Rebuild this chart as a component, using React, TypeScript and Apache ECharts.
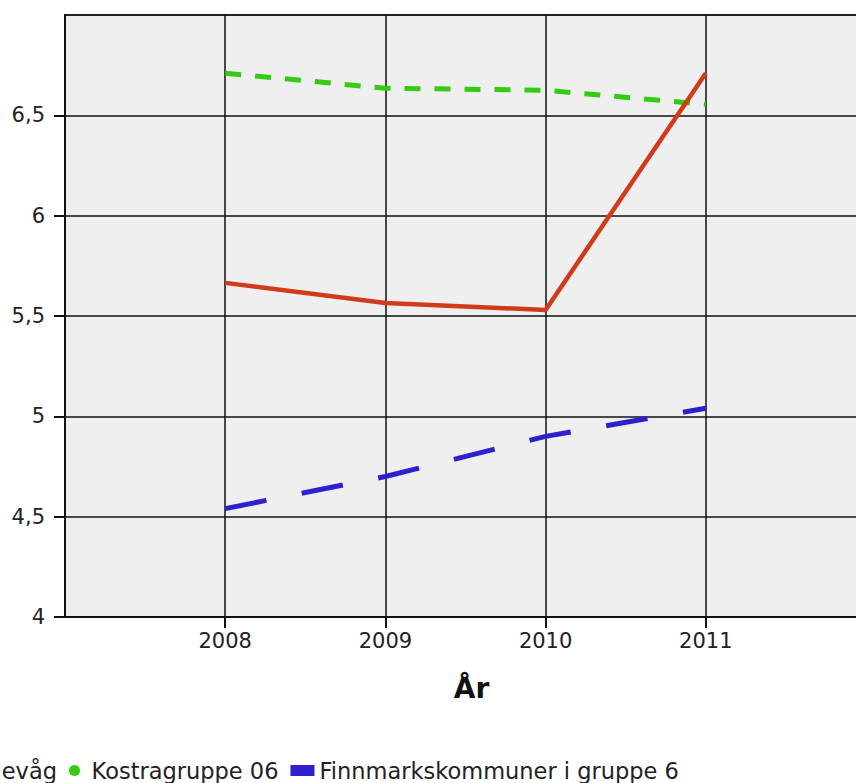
import React, { useEffect, useRef } from "react";
import * as echarts from "echarts";

const years = [2008, 2009, 2010, 2011];
const seriesNames = ["Berlevåg", "Kostragruppe 06", "Finnmarkskommuner i gruppe 6"];
const berlevag = [5.665, 5.565, 5.53, 6.71];
const kostra = [6.71, 6.635, 6.625, 6.555];
const finnmark = [4.54, 4.7, 4.9, 5.04];
const yTicks = [4, 4.5, 5, 5.5, 6, 6.5];
const xTicks = [2008, 2009, 2010, 2011];

const OFF = 100;
const W = 1000;
const H = 783;

const pairs = (vals: number[]) => years.map((y, i) => [y, vals[i]]);

export default function App() {
  const ref = useRef<HTMLDivElement>(null);
  useEffect(() => {
    if (!ref.current) return;
    const chart = echarts.init(ref.current, undefined, { renderer: "svg" });
    const font = "DejaVu Sans";
    chart.setOption({
      animation: false,
      backgroundColor: "#ffffff",
      grid: {
        left: 65 + OFF,
        right: W - (866 + OFF),
        top: 15,
        bottom: H - 617,
        show: true,
        backgroundColor: "#efefef",
        borderColor: "#222222",
        borderWidth: 2,
      },
      legend: {
        left: -72 + OFF,
        top: 759,
        padding: 0,
        itemWidth: 24,
        itemHeight: 11,
        itemGap: 12,
        textStyle: { fontFamily: font, fontSize: 22.5, color: "#222222" },
        data: [
          { name: seriesNames[0], icon: "rect" },
          { name: seriesNames[1], icon: "circle" },
          { name: seriesNames[2], icon: "rect" },
        ],
      },
      xAxis: {
        type: "value",
        min: 2007,
        max: 2012,
        interval: 1,
        name: "År",
        nameLocation: "middle",
        nameGap: 57,
        nameTextStyle: {
          fontFamily: font,
          fontSize: 28,
          fontWeight: "bold",
          color: "#111111",
          padding: [0, 0, 0, 12],
        },
        axisLine: { show: true, lineStyle: { color: "#111111", width: 2 } },
        axisTick: {
          show: true,
          length: 11,
          customValues: xTicks,
          lineStyle: { color: "#111111", width: 2 },
        },
        axisLabel: {
          customValues: xTicks,
          margin: 13,
          fontFamily: font,
          fontSize: 21,
          color: "#222222",
          formatter: (v: number) => String(v),
        },
        splitLine: { show: true, lineStyle: { color: "#111111", width: 1.5 } },
      },
      yAxis: {
        type: "value",
        min: 4,
        max: 7,
        interval: 0.5,
        axisLine: { show: true, lineStyle: { color: "#111111", width: 2 } },
        axisTick: {
          show: true,
          length: 11,
          customValues: yTicks,
          lineStyle: { color: "#111111", width: 2 },
        },
        axisLabel: {
          customValues: yTicks,
          margin: 20,
          fontFamily: font,
          fontSize: 21,
          color: "#222222",
          formatter: (v: number) => String(v).replace(".", ","),
        },
        splitLine: { show: true, lineStyle: { color: "#111111", width: 1.5 } },
      },
      series: [
        {
          name: seriesNames[1],
          type: "line",
          data: pairs(kostra),
          symbol: "none",
          z: 2,
          itemStyle: { color: "#33cc11" },
          lineStyle: { color: "#33cc11", width: 5, type: [16, 14] },
        },
        {
          name: seriesNames[2],
          type: "line",
          data: pairs(finnmark),
          symbol: "none",
          z: 2,
          itemStyle: { color: "#2f1fcf" },
          lineStyle: { color: "#2f1fcf", width: 5, type: [42, 36] },
        },
        {
          name: seriesNames[0],
          type: "line",
          data: pairs(berlevag),
          symbol: "none",
          z: 3,
          itemStyle: { color: "#d23a1c" },
          lineStyle: { color: "#d23a1c", width: 4.5 },
        },
      ],
    });
    return () => chart.dispose();
  }, []);
  return (
    <div
      style={{
        position: "fixed",
        left: 0,
        top: 0,
        width: 856,
        height: H,
        overflow: "hidden",
        background: "#ffffff",
      }}
    >
      <div
        ref={ref}
        style={{ position: "absolute", left: -OFF, top: 0, width: W, height: H }}
      />
    </div>
  );
}
